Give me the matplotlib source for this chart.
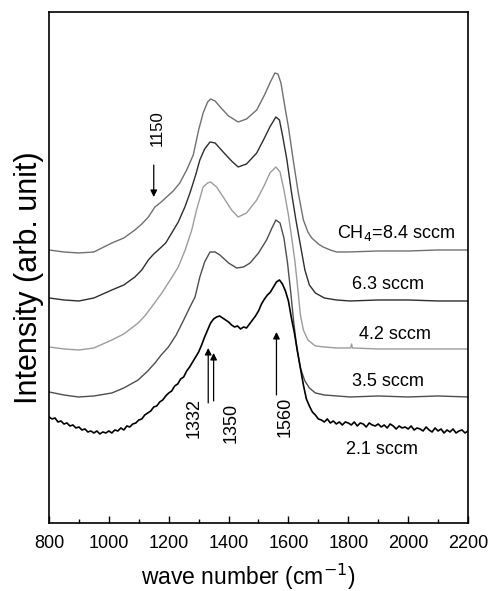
import numpy as np
import matplotlib
matplotlib.use('Agg')
import matplotlib.pyplot as plt

# Raman spectra for films grown at different CH4 flow rates (arbitrary intensity, offset)
wn_84 = [800, 850, 900, 950, 1010, 1050, 1087, 1110, 1132, 1154, 1175, 1193, 1215, 1237,
         1260, 1282, 1300, 1315, 1330, 1340, 1355, 1375, 1400, 1432, 1460, 1494, 1520,
         1538, 1555, 1565, 1575, 1590, 1600, 1616, 1633, 1650, 1665, 1678, 1700, 1716,
         1740, 1761, 1800, 1900, 2000, 2100, 2200]
int_84 = [273, 271, 270, 271, 280, 285, 293, 299, 306, 316, 321, 326, 332, 340,
          353, 368, 393, 410, 421, 424, 422, 415, 407, 401, 404, 413, 428,
          440, 450, 449, 440, 413, 396, 363, 330, 303, 291, 285, 279, 276,
          273, 271, 271, 272, 272, 273, 273]

wn_63 = [800, 850, 900, 950, 1010, 1050, 1087, 1110, 1132, 1150, 1165, 1190, 1210, 1232,
         1254, 1271, 1290, 1304, 1320, 1338, 1355, 1382, 1410, 1432, 1460, 1494, 1520,
         1538, 1558, 1570, 1580, 1595, 1610, 1625, 1640, 1655, 1670, 1690, 1720, 1761,
         1806, 1900, 2000, 2100, 2200]
int_63 = [225, 223, 222, 225, 233, 238, 246, 253, 263, 269, 273, 280, 290, 301,
          316, 330, 348, 363, 374, 381, 380, 371, 362, 356, 359, 370, 385,
          396, 406, 403, 388, 363, 331, 303, 278, 253, 238, 230, 225, 223,
          222, 223, 223, 222, 222]

wn_42 = [800, 850, 900, 950, 1010, 1050, 1098, 1120, 1143, 1160, 1177, 1205, 1232, 1255,
         1277, 1293, 1315, 1330, 1340, 1360, 1382, 1410, 1432, 1460, 1494, 1520, 1538,
         1558, 1572, 1585, 1600, 1612, 1622, 1630, 1640, 1650, 1665, 1690, 1720, 1760,
         1808, 1811, 1814, 1900, 2000, 2100, 2200]
int_42 = [176, 174, 173, 175, 183, 189, 200, 207, 216, 223, 230, 243, 256, 273,
          293, 313, 336, 340, 341, 336, 326, 313, 306, 310, 323, 338, 350,
          356, 351, 333, 308, 283, 261, 238, 208, 193, 183, 177, 176, 175,
          175, 179, 175, 174, 174, 174, 174]

wn_35 = [800, 850, 898, 950, 1010, 1050, 1098, 1130, 1154, 1175, 1199, 1225, 1250, 1271,
         1288, 1304, 1320, 1338, 1355, 1371, 1400, 1427, 1450, 1472, 1500, 1527, 1545,
         1558, 1572, 1585, 1597, 1608, 1618, 1628, 1640, 1655, 1670, 1690, 1720, 1806,
         1900, 2000, 2100, 2200]
int_35 = [131, 128, 126, 127, 130, 135, 143, 152, 160, 168, 176, 188, 203, 216,
          226, 246, 261, 271, 271, 268, 260, 255, 256, 260, 270, 283, 295,
          303, 300, 285, 260, 230, 200, 175, 155, 142, 135, 130, 128, 126,
          127, 126, 127, 126]

# 2.1 sccm trace is noisy, sampled every 10 cm-1
wn_21 = np.arange(800, 2201, 10)
int_21 = [106, 104, 105, 101, 102, 99, 100, 97, 98, 95, 96,
          93, 94, 91, 92, 90, 92, 89, 91, 90, 92,
          90, 93, 92, 95, 93, 97, 96, 99, 100, 103,
          104, 108, 110, 112, 116, 117, 121, 123, 127, 130,
          132, 137, 139, 144, 146, 152, 156, 161, 166, 171,
          178, 186, 193, 200, 204, 206, 207, 205, 203, 201,
          198, 196, 197, 194, 196, 195, 199, 203, 207, 212,
          219, 224, 228, 231, 236, 241, 243, 239, 232, 222,
          205, 190, 172, 155, 138, 124, 117, 111, 108, 104,
          103, 101, 104, 100, 102, 99, 101, 98, 101, 100,
          98, 101, 97, 100, 99, 96, 100, 98, 97, 99,
          96, 98, 95, 99, 97, 94, 97, 95, 96, 94,
          97, 93, 95, 94, 92, 96, 93, 91, 95, 92,
          94, 90, 93, 91, 94, 90, 92, 93, 90, 92]

labels = ['CH$_4$=8.4 sccm', '6.3 sccm', '4.2 sccm', '3.5 sccm', '2.1 sccm']
label_x = [1959, 1933, 1956, 1933, 1912]
label_y = [290, 238, 188, 141, 73]

# Band positions marked with arrows: (value, tip y, tail y, text x, text y)
bands = [1150, 1332, 1350, 1560]
band_tip = [326, 175, 170, 191]
band_tail = [358, 120, 122, 128]
band_text_x = [1161, 1284, 1410, 1589]
band_text_y = [395, 105, 100, 106]


def plot_spectra():
    plt.rcParams['font.family'] = ['Liberation Sans', 'DejaVu Sans']
    fig = plt.figure(figsize=(4.92, 5.91), dpi=100)
    ax = fig.add_axes([0.0996, 0.1151, 0.8516, 0.8646])

    ax.plot(wn_84, int_84, color='#707070', lw=1.0)
    ax.plot(wn_63, int_63, color='#2e2e2e', lw=1.0)
    ax.plot(wn_42, int_42, color='#9c9c9c', lw=1.0)
    ax.plot(wn_35, int_35, color='#4e4e4e', lw=1.0)
    ax.plot(wn_21, int_21, color='black', lw=1.2)

    for text, x, y in zip(labels, label_x, label_y):
        ax.text(x, y, text, ha='center', va='center', fontsize=13)

    for b, tip, tail, tx, ty in zip(bands, band_tip, band_tail, band_text_x, band_text_y):
        ax.annotate('', xy=(b, tip), xytext=(b, tail),
                    arrowprops=dict(arrowstyle='-|>', color='black', lw=0.9,
                                    mutation_scale=10, shrinkA=0, shrinkB=0))
        size = 12 if b == 1150 else 13
        ax.text(tx, ty, str(b), rotation=90, ha='center', va='center', fontsize=size)

    ax.set_xlim(800, 2200)
    ax.set_ylim(0, 511)
    ax.set_xticks(np.arange(800, 2201, 200))
    ax.set_xticks(np.arange(900, 2200, 200), minor=True)
    ax.set_yticks([])
    ax.tick_params(axis='x', which='major', direction='in', length=5, width=1,
                   labelsize=13, pad=9)
    ax.tick_params(axis='x', which='minor', direction='in', length=3, width=1)
    for spine in ax.spines.values():
        spine.set_linewidth(1.2)

    ax.set_xlabel('wave number (cm$^{-1}$)', fontsize=16.5)
    ax.xaxis.set_label_coords(0.475, -0.076)
    ax.set_ylabel('Intensity (arb. unit)', fontsize=22)
    ax.yaxis.set_label_coords(-0.012, 0.481)

    fig.savefig('out.png', dpi=100)


if __name__ == "__main__":
    plot_spectra()
